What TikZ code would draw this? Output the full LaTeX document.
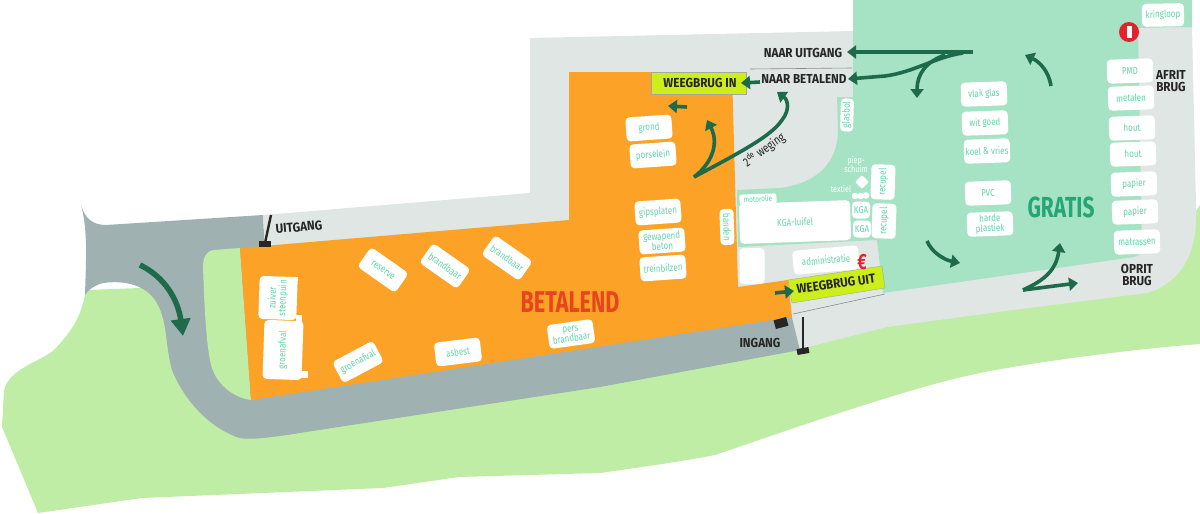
\documentclass[tikz,border=0pt]{standalone}
\usepackage{fontspec}
\usetikzlibrary{arrows.meta}
\usetikzlibrary{shapes.geometric}
\newfontfamily\condfont[FakeStretch=0.8]{Fira Sans}
\newfontfamily\signfont[FakeStretch=0.9]{Fira Sans}
\newfontfamily\titlefont[FakeStretch=0.72]{Fira Sans}
\definecolor{grass}{HTML}{C0EDA5}
\definecolor{road}{HTML}{A0B1B1}
\definecolor{pale}{HTML}{DFE6E4}
\definecolor{mint}{HTML}{A5E3C4}
\definecolor{paid}{HTML}{FCA327}
\definecolor{lime}{HTML}{CCEE1A}
\definecolor{routegreen}{HTML}{1E6B4B}
\definecolor{teal}{HTML}{62D5A6}
\definecolor{betared}{HTML}{E8441E}
\definecolor{gratisgreen}{HTML}{25A673}
\definecolor{stopred}{HTML}{E2232E}
\tikzstyle{bin} = [fill=white,text=teal,rounded corners=4pt,inner sep=0pt,align=center,
  minimum width=46pt,minimum height=24pt,font=\condfont\fontsize{10}{10}\selectfont]
\tikzstyle{tallbin} = [bin,minimum width=35pt,minimum height=24pt,rotate=88]
\tikzstyle{loose} = [text=white,inner sep=0pt,align=center,font=\condfont\fontsize{9}{9}\selectfont]
\tikzstyle{signtext} = [text=black!85,inner sep=0pt,align=center,font=\signfont\bfseries\fontsize{13}{12}\selectfont]
\tikzstyle{route} = [draw=routegreen,line width=3.6pt,-{Triangle[length=9pt,width=13pt]}]
\tikzstyle{bridge} = [draw=black!35,fill=lime,line width=0.4pt]
\tikzstyle{barrier} = [draw=black!85,line width=2.4pt]
\tikzstyle{foot} = [fill=black!85,inner sep=0pt,minimum width=12pt,minimum height=6pt]

\begin{document}
\begin{tikzpicture}[x=1pt,y=-1pt]
\useasboundingbox (0,0) rectangle (1200,514);

% grounds
\fill[grass] (86,290) .. controls (82,310) and (78,325) .. (54,350)
  .. controls (40,362) and (10,368) .. (4,390) -- (2,427) -- (38,513) -- (142,498)
  -- (383,488) -- (459,477) -- (600,473) .. controls (650,466) and (690,460) .. (715,455)
  .. controls (760,440) and (900,390) .. (971,375) .. controls (1000,368) and (1100,352) .. (1200,344)
  -- (1200,205) -- (1170,250) -- cycle;
\fill[road] (81,205) .. controls (85,218) and (92,225) .. (106,225) -- (263,215) -- (265,252)
  -- (792,317) -- (800,350) -- (600,387) -- (306,432) .. controls (270,438) and (250,440) .. (239,438)
  .. controls (203,425) and (181,393) .. (172,370) .. controls (165,345) and (168,325) .. (158,305)
  .. controls (148,285) and (125,280) .. (103,283) .. controls (95,285) and (88,290) .. (85,295)
  .. controls (86,260) and (88,230) .. cycle;
\fill[pale] (263,215) -- (530,193) -- (530,38) -- (853,31) -- (1192,27) -- (1196,205)
  .. controls (1198,240) and (1190,280) .. (1147,293) -- (1013,310) -- (887,327) -- (808,347)
  -- (800,350) -- (792,317) -- (265,252) -- cycle;
\fill[mint] (853,0) -- (1192,0) -- (1192,27) -- (1138,28) -- (1142,250)
  .. controls (1142,256) and (1135,257) .. (1127,258) -- (883,293) -- (877,240) -- (738,247)
  -- (737,190) -- (780,188) .. controls (820,183) and (838,160) .. (838,130) -- (837,97)
  -- (853,97) -- cycle;
\fill[grass] (240,248) -- (214,250) .. controls (206,251) and (203,258) .. (203,265)
  .. controls (204,300) and (206,340) .. (210,360) .. controls (214,385) and (235,398) .. (251,400) -- cycle;
\fill[paid] (240,248) -- (569,220) -- (569,72) -- (732,72) -- (738,287) -- (788,280)
  -- (792,317) -- (251,400) -- cycle;
\draw[black!45,line width=0.6pt] (750,69) -- (852,68);
\draw[black!45,line width=0.6pt] (793,314) -- (885,294);

% weighbridges
\draw[bridge] (651,72) rectangle (746,94);
\draw[bridge] (788,280) -- (882,266) -- (885,288) -- (792,303) -- cycle;
\node[signtext] (weegin) at (700,83) {WEEGBRUG IN};
\node[signtext,rotate=8] (weeguit) at (836,284) {WEEGBRUG UIT};

% betalend
\node[bin,rotate=4] (grond) at (649,128) {grond};
\node[bin,rotate=4] (porselein) at (653,155) {porselein};
\node[bin,rotate=4] (gips) at (658,212) {gipsplaten};
\node[bin,rotate=4] (beton) at (662,241) {gewapend\\beton};
\node[bin,rotate=4] (trein) at (663,268) {treinbilzen};
\node[bin,minimum width=36pt,minimum height=14pt,rotate=-88] (banden) at (727,227) {banden};
\node[bin,rotate=-35] (reserve) at (383,270) {reserve};
\node[bin,rotate=-35] (brand1) at (445,266) {brandbaar};
\node[bin,rotate=-35] (brand2) at (507,258) {brandbaar};
\node[bin,rotate=28] (groen2) at (358,362) {groenafval};
\node[bin,rotate=7] (asbest) at (458,352) {asbest};
\node[bin,rotate=8] (pers) at (571,334) {pers\\brandbaar};
% bunker
\node[bin,minimum width=43pt,minimum height=38pt,rotate=88] (steen) at (278,298) {zuiver\\steenpuin};
\node[bin,minimum width=59pt,minimum height=39pt,rotate=88] (groen1) at (283,350) {groenafval};
\fill[white] (290,277) rectangle (298,281);
\fill[white] (296,315) rectangle (302,325);
\fill[white] (300,371) rectangle (308,378);
\node[text=betared,inner sep=0pt,font=\titlefont\bfseries\fontsize{30}{30}\selectfont] (betalend) at (570,302) {BETALEND};

% gratis
\node[bin,rotate=1,minimum width=42pt,minimum height=23pt] (kringloop) at (1163,15) {kringloop};
\node[bin,rotate=2] (pmd) at (1130,71) {PMD};
\node[bin,rotate=2] (metalen) at (1131,98) {metalen};
\node[bin,rotate=2] (hout1) at (1132,128) {hout};
\node[bin,rotate=2] (hout2) at (1133,154) {hout};
\node[bin,rotate=2] (papier1) at (1134,184) {papier};
\node[bin,rotate=2] (papier2) at (1135,212) {papier};
\node[bin,rotate=2] (matras) at (1137,242) {matrassen};
\node[bin,rotate=2] (vlak) at (984,94) {vlak glas};
\node[bin,rotate=2] (wit) at (985,123) {wit goed};
\node[bin,rotate=2] (koel) at (987,151) {koel \& vries};
\node[bin,rotate=2] (pvc) at (988,193) {PVC};
\node[bin,rotate=2] (harde) at (990,224) {harde\\plastiek};
\node[bin,minimum width=33pt,minimum height=13pt,rotate=88] (glasbol) at (847,115) {glasbol};
\node[tallbin] (recupel1) at (883,182) {recupel};
\node[tallbin] (recupel2) at (884,221) {recupel};
\node[bin,minimum width=18pt,minimum height=17pt] (kga1) at (861,210) {KGA};
\node[bin,minimum width=18pt,minimum height=17pt] (kga2) at (862,229) {KGA};
\node[bin,minimum width=111pt,minimum height=40pt,rotate=2] (luifel) at (795,222) {KGA-luifel};
\node[bin,minimum width=37pt,minimum height=10pt,rounded corners=2pt,rotate=2,font=\condfont\fontsize{8}{8}\selectfont] (motorolie) at (758,199) {motorolie};
\node[bin,minimum width=66pt,minimum height=24pt,rotate=5] (admin) at (826,260) {administratie};
\node[bin,minimum width=25pt,minimum height=36pt] (blanco) at (752,266) {};
\node[loose] (piep) at (856,165) {piep-\\schuim};
\node[loose] (textiel) at (841,189) {textiel};
\node[diamond,fill=white,rounded corners=1pt,inner sep=0pt,minimum size=14pt] (ruit) at (862,182) {};
\fill[white] (855,196) circle (3.3) (860.5,196) circle (3.3) (866,195.5) circle (3.3);
\node[text=stopred,inner sep=0pt,font=\titlefont\bfseries\fontsize{22}{22}\selectfont] (euro) at (862,262) {€};
\node[text=gratisgreen,inner sep=0pt,font=\titlefont\bfseries\fontsize{29}{29}\selectfont] (gratis) at (1061,207) {GRATIS};

% no entry
\node[circle,fill=stopred,inner sep=0pt,minimum size=20pt] (stop) at (1129,32) {};
\fill[white] (1126.5,26) rectangle (1131.5,38);

% signs
\node[signtext] (uitgang) at (803,53) {NAAR UITGANG};
\node[signtext] (betaal) at (804,79) {NAAR BETALEND};
\node[signtext] (afrit) at (1171,81) {AFRIT\\BRUG};
\node[signtext] (oprit) at (1137,275) {OPRIT\\BRUG};
\node[signtext] (ingang) at (760,343) {INGANG};
\node[signtext,rotate=5] (uit) at (299,227) {UITGANG};
\node[text=black!85,inner sep=0pt,rotate=36,font=\condfont\fontsize{12.5}{12.5}\selectfont] (tweede) at (764,150) {2\textsuperscript{de} weging};

% barriers
\draw[barrier] (271,215) -- (265,243);
\node[foot] (foot1) at (265,244) {};
\draw[barrier] (803,317) -- (803,351);
\node[foot,rotate=10] (foot2) at (803,351) {};
\node[fill=black!85,inner sep=0pt,minimum width=13pt,minimum height=9pt,rotate=15] (slagboom) at (781,323) {};

% routes
\draw[route,line width=5.5pt,-{Triangle[length=17pt,width=19pt]}] (140,265) .. controls (165,277) and (178,300) .. (183,336);
\draw[route] (973,52) -- (847,52);
\draw[route] (963,53) .. controls (935,57) and (915,72) .. (885,76) -- (848,79);
\draw[route] (945,55) .. controls (925,62) and (917,75) .. (917,98);
\draw[route] (1051,86) .. controls (1049,72) and (1040,62) .. (1025,55);
\draw[route] (927,241) .. controls (932,253) and (945,260) .. (960,263);
\coordinate (splitnode) at (1023,290);
\draw[route] (splitnode) .. controls (1045,280) and (1056,270) .. (1060,243);
\draw[route] (splitnode) -- (1078,283);
\draw[route] (760,82) -- (741,83);
\draw[route] (687,107) -- (668,106);
\coordinate (weegnode) at (694,177);
\draw[route] (weegnode) .. controls (710,165) and (720,145) .. (707,120);
\draw[route] (weegnode) .. controls (745,150) and (772,135) .. (782,120) .. controls (790,110) and (788,100) .. (777,92);
\draw[route] (775,293) -- (794,291);
\end{tikzpicture}
\end{document}
